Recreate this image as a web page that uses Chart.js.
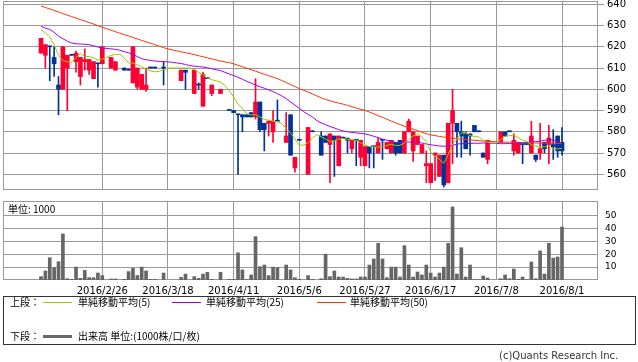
<!DOCTYPE html>
<html><head><meta charset="utf-8">
<script src="https://cdn.jsdelivr.net/npm/chart.js@4.4.1/dist/chart.umd.min.js"></script>
<style>
html,body{margin:0;padding:0;background:#fff;}
body{width:638px;height:362px;position:relative;overflow:hidden;font-family:"Noto Sans CJK JP","DejaVu Sans",sans-serif;}
canvas{position:absolute;left:0;}
#c1{top:0;}
#c2{top:195px;}
.t{position:absolute;font-size:10px;line-height:12px;color:#000;white-space:nowrap;}
.ln{position:absolute;height:1px;width:29px;}
#box{position:absolute;left:3px;top:296px;width:631px;height:47px;border:1px solid #333;}
</style></head><body>
<canvas id="c1" width="638" height="196"></canvas>
<canvas id="c2" width="638" height="100"></canvas>
<div class="t" style="left:8px;top:203px;">単位: 1000</div>
<div id="box"></div>
<div class="t" style="left:10px;top:296px;">上段：</div>
<div class="ln" style="left:43px;top:302px;background:#99cc00;"></div>
<div class="t" style="left:78px;top:296px;">単純移動平均(5)</div>
<div class="ln" style="left:172px;top:302px;background:#9900ff;"></div>
<div class="t" style="left:206px;top:296px;">単純移動平均(25)</div>
<div class="ln" style="left:317px;top:302px;background:#ff3300;"></div>
<div class="t" style="left:350px;top:296px;">単純移動平均(50)</div>
<div class="t" style="left:10px;top:330px;">下段：</div>
<div class="ln" style="left:43px;top:335px;height:3px;background:#666;"></div>
<div class="t" style="left:78px;top:330px;">出来高 単位:(1000株/口/枚)</div>
<div class="t" style="left:499px;top:350px;color:#333;font-family:'DejaVu Sans',sans-serif;font-size:10px;">(c)Quants Research Inc.</div>
<script>
const dates = ["2016/2/5","2016/2/8","2016/2/9","2016/2/10","2016/2/12","2016/2/15","2016/2/16","2016/2/17","2016/2/18","2016/2/19","2016/2/22","2016/2/23","2016/2/24","2016/2/25","2016/2/26","2016/2/29",
"2016/3/1","2016/3/2","2016/3/3","2016/3/4","2016/3/7","2016/3/8","2016/3/9","2016/3/10","2016/3/11","2016/3/14","2016/3/15","2016/3/16","2016/3/17","2016/3/18","2016/3/22","2016/3/23","2016/3/24","2016/3/25","2016/3/28","2016/3/29","2016/3/30","2016/3/31",
"2016/4/1","2016/4/4","2016/4/5","2016/4/6","2016/4/7","2016/4/8","2016/4/11","2016/4/12","2016/4/13","2016/4/14","2016/4/15","2016/4/18","2016/4/19","2016/4/20","2016/4/21","2016/4/22","2016/4/25","2016/4/26","2016/4/27","2016/4/28",
"2016/5/2","2016/5/6","2016/5/9","2016/5/10","2016/5/11","2016/5/12","2016/5/13","2016/5/16","2016/5/17","2016/5/18","2016/5/19","2016/5/20","2016/5/23","2016/5/24","2016/5/25","2016/5/26","2016/5/27","2016/5/30","2016/5/31",
"2016/6/1","2016/6/2","2016/6/3","2016/6/6","2016/6/7","2016/6/8","2016/6/9","2016/6/10","2016/6/13","2016/6/14","2016/6/15","2016/6/16","2016/6/17","2016/6/20","2016/6/21","2016/6/22","2016/6/23","2016/6/24","2016/6/27","2016/6/28","2016/6/29","2016/6/30",
"2016/7/1","2016/7/4","2016/7/5","2016/7/6","2016/7/7","2016/7/8","2016/7/11","2016/7/12","2016/7/13","2016/7/14","2016/7/15","2016/7/19","2016/7/20","2016/7/21","2016/7/22","2016/7/25","2016/7/26","2016/7/27","2016/7/28","2016/7/29",
"2016/8/1"];

const opens = [617,616,620,615,602,600,610,616,613,606,613,609,605,612,612,null,
610,609,null,610,609,603,601,600,600,610,610,null,610,null,null,null,604,609,null,598,602,592,
605,598,null,598,null,590,590,588,588,588,589,587,594,584,584,580,585,null,575,588,
563,576,null,560,580,null,578,578,574,578,564,577,577,572,576,568,564,573,573,
570,576,572,570,575,576,570,580,571,574,570,564,556,569,559,569,556,584,584,580,579,579,
583,580,570,567,null,null,575,580,580,571,570,574,574,570,569,570,575,574,574,578,
575];
const highs = [624,621,620,620,606,620,616,616,618,615,619,614,613,612,620,null,
615,613,null,610,609,620,610,607,610,610,610,null,613,null,null,null,609,609,null,609,603,608,
605,602,null,600,null,590,590,588,588,588,589,605,594,584,585,590,595,null,589,588,
568,576,null,582,580,null,580,578,579,578,578,577,577,576,576,576,573,573,573,
577,576,575,576,575,576,580,586,580,578,574,571,565,570,569,569,584,600,584,585,580,579,
583,580,570,576,null,null,580,580,580,579,575,574,574,585,569,584,575,583,581,578,
582];
const lows = [617,610,604,606,588,600,590,616,608,602,609,607,605,601,612,null,
610,609,null,609,609,603,600,600,599,610,610,null,602,null,null,null,604,600,null,598,600,592,
605,597,null,598,null,590,589,560,580,587,587,586,580,571,578,575,585,null,575,569,
561,576,null,560,580,null,569,575,556,559,564,577,570,570,564,564,564,563,563,
570,567,572,570,569,570,570,580,566,574,570,556,556,557,559,554,556,565,568,568,572,569,
580,580,568,565,null,null,575,578,580,569,570,565,574,570,566,567,570,565,567,568,
569];
const closes = [624,621,620,612,600,620,616,616,617,615,614,614,613,612,620,null,
615,613,null,609,609,620,610,607,602,610,610,null,610,null,null,null,609,608,null,609,602,607,
605,602,null,600,null,590,589,588,587,587,587,594,581,581,585,585,585,null,578,569,
568,576,null,582,580,null,569,575,579,576,578,577,576,576,576,576,573,570,573,
575,576,575,576,570,570,580,585,580,578,574,565,565,570,569,555,584,590,580,578,572,578,
580,580,568,576,null,null,580,578,580,576,575,574,574,578,567,572,572,577,573,571,
571];
const volumes = [2.6,7,17.3,9.6,14.2,35.7,1,0.5,10,1.3,7.5,1.8,1.8,5.4,3.4,0,
0.8,0.8,0,0.5,6.5,9,3.5,10,7,0.5,0.5,0,5.4,0,0,0,2,4.6,0,2.6,1.3,4.6,
6,0.5,0,6,0,0.5,0.5,21,7.8,0.3,3.9,33.6,10.3,11.6,3.4,10,9.6,0,11.6,7.8,
1.8,0.5,0,3.4,0.5,0,1,20,2.6,7,2.3,2.3,1.3,0.8,0.8,2.3,2.3,11.6,16.3,
28.4,16.3,1.8,10,10,2.3,26.6,11.6,2.3,6.2,3.9,11.6,5.4,2.3,5.4,10,28.4,56.6,4.6,25,2.3,11.6,
0.3,0.3,3.1,1.5,0,0,1,3.9,1,8.5,0.5,2.3,0.3,14,1,22.5,4.6,28.4,17,17.8,
41];
const ma5 = [628.1,626.5,624.6,621.0,616.0,613.5,613.0,612.5,615.0,616.8,615.5,615.4,614.8,613.7,614.2,615.0,
616.0,616.3,616.5,614.8,612.3,612.4,611.6,610.6,609.5,608.7,608.2,608.5,609.2,610.0,610.0,610.0,610.0,610.0,610.0,609.3,608.0,606.8,
605.3,604.5,604.0,603.4,601.9,599.3,596.4,593.0,591.0,588.4,587.9,588.1,587.0,585.8,585.4,585.0,584.6,584.0,581.5,579.5,
576.6,573.6,573.8,574.7,577.0,578.7,577.6,576.6,575.4,575.8,576.6,576.8,576.5,576.3,576.0,574.8,573.8,573.0,572.9,
572.8,572.9,573.6,574.1,573.6,573.6,574.8,576.3,578.0,579.3,577.6,575.2,570.5,568.4,567.0,565.2,569.3,574.0,576.6,579.5,579.6,578.2,
577.8,577.6,576.0,575.1,574.8,574.7,576.3,577.9,578.2,578.4,577.2,576.0,575.4,574.0,573.1,572.9,572.9,573.3,571.9,572.0,
572.1];
const ma25 = [629.6,628.8,628.2,626.8,625.0,623.8,622.6,621.8,621.4,621.3,621.2,621.0,620.5,619.9,619.4,619.2,
619.0,618.8,618.4,617.7,617.2,616.4,615.4,614.4,613.9,613.6,613.3,613.1,613.0,612.9,612.7,612.4,612.1,611.7,611.1,610.9,610.7,610.5,
610.1,609.7,609.2,608.8,608.0,607.2,606.5,605.6,604.7,603.7,602.9,602.0,601.2,600.5,599.7,598.9,597.9,596.9,595.6,594.1,
592.6,591.0,589.5,588.2,587.0,585.2,584.2,583.3,582.5,581.8,581.0,580.4,580.0,579.7,579.5,579.2,579.0,578.5,577.9,
577.3,576.5,576.0,575.6,575.0,574.8,575.0,575.2,575.2,575.1,574.7,574.2,573.9,573.6,573.3,573.2,573.3,573.6,574.2,574.4,574.5,574.5,
574.6,574.6,574.7,574.7,574.6,574.5,574.4,574.4,574.5,574.6,574.6,574.8,575.0,575.2,575.4,575.6,575.9,576.3,576.0,575.4,
574.7];
const ma50 = [639.2,638.5,637.8,637.1,636.4,635.6,634.9,634.2,633.5,632.8,632.1,631.4,630.7,629.9,629.2,628.5,
627.8,627.1,626.4,625.7,625.1,624.4,623.7,623.0,622.3,621.7,621.0,620.3,619.6,619.0,618.5,618.1,617.6,617.2,616.8,616.3,615.8,615.3,
614.8,614.3,613.8,613.3,612.9,612.5,612.0,611.3,610.6,609.9,609.2,608.5,607.8,607.1,606.4,605.7,605.0,604.1,603.2,602.2,
601.3,600.3,599.5,598.7,597.8,596.9,596.0,595.2,594.6,594.0,593.5,593.0,592.4,591.8,591.2,590.6,590.1,589.3,588.5,
587.6,586.8,585.9,585.0,584.2,583.4,582.6,581.9,581.2,580.5,579.8,579.1,578.5,578.2,577.8,577.5,577.2,577.0,576.8,576.6,576.4,576.2,
576.0,575.8,575.6,575.5,575.4,575.3,575.2,575.1,575.1,575.0,574.9,574.9,574.8,574.8,574.7,574.7,574.6,574.6,574.5,574.5,
574.4];
const tickDates = ["2016/2/26","2016/3/18","2016/4/11","2016/5/6","2016/5/27","2016/6/17","2016/7/8","2016/8/1"];
const priceTicks = [560,570,580,590,600,610,620,630,640];
const volumeTicks = [10,20,30,40,50];

const UP = '#ff0033', DOWN = '#003399', GRID = '#999999';
const tickIdx = tickDates.map(d => dates.indexOf(d));

const bodies = [], wicks = [], colors = [];
dates.forEach((d, i) => {
  if (opens[i] == null) return;
  const o = opens[i], c = closes[i];
  bodies.push({x: i, y: [Math.min(o, c), Math.max(o, c)]});
  wicks.push({x: i, y: [lows[i], highs[i]]});
  colors.push(c > o ? UP : DOWN);
});
const volData = [];
volumes.forEach((v, i) => { if (v > 0) volData.push({x: i, y: v}); });

const frame = {id: 'frame', beforeDatasetsDraw(chart) {
  const {ctx, chartArea: a} = chart;
  ctx.save(); ctx.strokeStyle = GRID; ctx.lineWidth = 1;
  ctx.strokeRect(Math.round(a.left) + 0.5, Math.round(a.top) + 0.5, Math.round(a.right - a.left) - 1, Math.round(a.bottom - a.top) - 1);
  ctx.restore();
}};

function xAxis(showLabels) {
  return {
    type: 'linear', min: -8.68, max: 127.22, offset: false,
    grid: {color: GRID, lineWidth: 1, drawTicks: false, offset: false},
    border: {display: false},
    ticks: {display: showLabels, autoSkip: false, maxRotation: 0, minRotation: 0, padding: 5,
      font: {family: 'DejaVu Sans', size: 10}, color: '#000', callback: v => dates[v]},
    afterBuildTicks: s => { s.ticks = tickIdx.map(v => ({value: v})); },
    afterFit: s => { s.height = showLabels ? 15 : 0; s.paddingLeft = 0; s.paddingRight = 0; }
  };
}
const common = {
  responsive: false, animation: false, devicePixelRatio: 1,
  plugins: {legend: {display: false}, tooltip: {enabled: false}}
};

new Chart(document.getElementById('c1'), {
  type: 'bar',
  data: {datasets: [
    {type: 'line', data: ma5.map((v, i) => ({x: i, y: v})), borderColor: '#99cc00', borderWidth: 1, pointRadius: 0, tension: 0, order: 0},
    {type: 'line', data: ma25.map((v, i) => ({x: i, y: v})), borderColor: '#9900ff', borderWidth: 1, pointRadius: 0, tension: 0, order: 0},
    {type: 'line', data: ma50.map((v, i) => ({x: i, y: v})), borderColor: '#ff3300', borderWidth: 1, pointRadius: 0, tension: 0, order: 0},
    {type: 'bar', data: bodies, backgroundColor: colors, barThickness: 4, minBarLength: 1, grouped: false, order: 1},
    {type: 'bar', data: wicks, backgroundColor: colors, barThickness: 1, minBarLength: 1, grouped: false, order: 2}
  ]},
  options: Object.assign({}, common, {
    layout: {padding: {left: 3, top: 1, right: 0, bottom: 6}},
    scales: {
      x: xAxis(false),
      y: {type: 'linear', position: 'right', min: 552.6, max: 641.55,
        grid: {color: GRID, lineWidth: 1, drawTicks: true, tickLength: 6, tickColor: GRID},
        border: {display: false},
        ticks: {padding: 3, font: {family: 'DejaVu Sans', size: 10}, color: '#000'},
        afterBuildTicks: s => { s.ticks = priceTicks.map(v => ({value: v})); },
        afterFit: s => { s.width = 40; s.paddingTop = 0; s.paddingBottom = 0; }
      }
    }
  }),
  plugins: [frame]
});

new Chart(document.getElementById('c2'), {
  type: 'bar',
  data: {datasets: [
    {type: 'bar', data: volData, backgroundColor: '#666666', barThickness: 3, grouped: false}
  ]},
  options: Object.assign({}, common, {
    layout: {padding: {left: 3, top: 6, right: 0, bottom: 0}},
    scales: {
      x: xAxis(true),
      y: {type: 'linear', position: 'right', min: 0, max: 61.2,
        grid: {color: GRID, lineWidth: 1, drawTicks: false},
        border: {display: false},
        ticks: {padding: 7, font: {family: 'DejaVu Sans', size: 9}, color: '#000'},
        afterBuildTicks: s => { s.ticks = volumeTicks.map(v => ({value: v})); },
        afterFit: s => { s.width = 40; s.paddingTop = 0; s.paddingBottom = 0; }
      }
    }
  }),
  plugins: [frame]
});
</script>
</body></html>
